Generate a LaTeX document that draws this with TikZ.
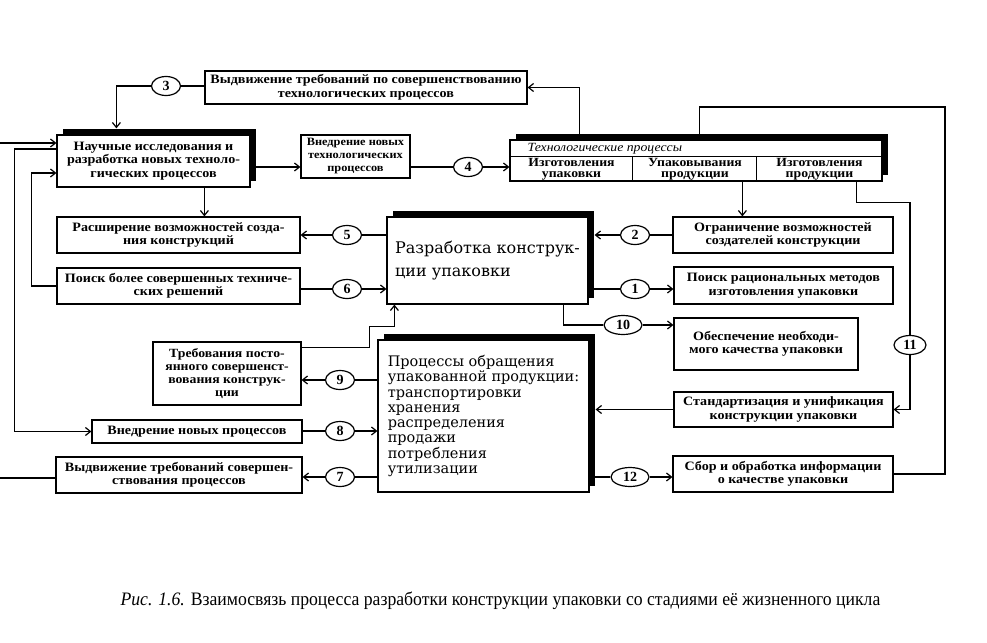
\documentclass[tikz,border=0pt]{standalone}
\usepackage{fontspec}
\setmainfont{Liberation Serif}
\newfontfamily\boxfont[FakeStretch=1.1]{Liberation Serif}
\newfontfamily\bigfont{DejaVu Serif}
\newfontfamily\capfont[FakeStretch=0.93]{Liberation Serif}
\usetikzlibrary{arrows.meta,shapes.geometric,shadows}

\begin{document}
\begin{tikzpicture}[x=1pt,y=-1pt,line width=1.2pt,
  box/.style={draw,fill=white,align=center,inner sep=1pt,font=\boxfont\bfseries\fontsize{12.8}{13.5}\selectfont},
  heavy/.style={box,drop shadow={shadow xshift=6pt,shadow yshift=6pt,fill=black,opacity=1}},
  cell/.style={align=center,inner sep=0pt,font=\boxfont\bfseries\fontsize{12.5}{11}\selectfont},
  num/.style={draw,ellipse,fill=white,inner sep=0pt,minimum height=19pt,font=\bfseries\fontsize{14}{14}\selectfont},
  arr/.style={-{Straight Barb[length=5pt,width=8pt]}}]
\useasboundingbox (0,0) rectangle (987,642);

% top row
\node[box,minimum width=322,minimum height=33] (req3) at (366,87.5) {Выдвижение требований по совершенствованию\\технологических процессов};
\node[heavy,minimum width=193,minimum height=52] (nauch) at (153.5,161) {Научные исследования и\\разработка новых техноло-\\гических процессов};
\node[box,minimum width=109,minimum height=43,font=\boxfont\bfseries\fontsize{11.2}{13}\selectfont] (vned) at (355.5,156.5) {Внедрение новых\\технологических\\процессов};
\node[heavy,minimum width=372,minimum height=41] (tech) at (696,160.5) {};
\node[anchor=west,inner sep=0pt,font=\boxfont\itshape\fontsize{12.5}{12}\selectfont] (techhead) at (527,148.5) {Технологические процессы};
\node[cell] (col1) at (571.5,169) {Изготовления\\упаковки};
\node[cell] (col2) at (695,169) {Упаковывания\\продукции};
\node[cell] (col3) at (819.5,169) {Изготовления\\продукции};
\draw[line width=0.8pt] ([yshift=-17]tech.north west) -- ([yshift=-17]tech.north east);
\draw[line width=0.8pt] ([xshift=123,yshift=-17]tech.north west) -- ([xshift=123]tech.south west);
\draw[line width=0.8pt] ([xshift=247,yshift=-17]tech.north west) -- ([xshift=247]tech.south west);

% middle
\node[box,minimum width=243,minimum height=36] (rassh) at (178.5,235) {Расширение возможностей созда-\\ния конструкций};
\node[box,minimum width=243,minimum height=36] (poisk) at (178.5,286) {Поиск более совершенных техниче-\\ских решений};
\node[heavy,align=left,minimum width=201,minimum height=87,font=\bigfont\fontsize{16}{23}\selectfont] (razr) at (487.5,260.5) {Разработка конструк-\\ции упаковки};
\node[box,minimum width=220,minimum height=36] (ogran) at (783,235) {Ограничение возможностей\\создателей конструкции};
\node[box,minimum width=219,minimum height=37] (poiskrac) at (783.5,285.5) {Поиск рациональных методов\\изготовления упаковки};
\node[box,minimum width=184,minimum height=52] (obesp) at (766,344) {Обеспечение необходи-\\мого качества упаковки};

% bottom
\node[box,minimum width=148,minimum height=63,font=\boxfont\bfseries\fontsize{12.5}{13}\selectfont] (treb) at (227,373.5) {Требования посто-\\янного совершенст-\\вования конструк-\\ции};
\node[box,minimum width=210,minimum height=23] (vnproc) at (197,431.5) {Внедрение новых процессов};
\node[box,minimum width=246,minimum height=36] (vydv) at (179,475) {Выдвижение требований совершен-\\ствования процессов};
\node[heavy,align=left,minimum width=211,minimum height=152,font=\bigfont\fontsize{14.5}{15.3}\selectfont] (proc) at (483.5,416) {Процессы обращения\\упакованной продукции:\\транспортировки\\хранения\\распределения\\продажи\\потребления\\утилизации};
\node[box,minimum width=219,minimum height=35] (stand) at (783.5,409.5) {Стандартизация и унификация\\конструкции упаковки};
\node[box,minimum width=220,minimum height=36] (sbor) at (783,474) {Сбор и обработка информации\\о качестве упаковки};

\foreach \n/\cx/\cy/\w in {1/635/289/29,2/635/235/29,3/166/86/29,4/468/167/29,5/347/235/29,6/347/289/29,
  7/340/477/29,8/340/431/29,9/340/380/29,10/623/325/38,11/910/345/32,12/630/477/38}
  \node[num,minimum width=\w] (c\n) at (\cx,\cy) {\n};

\coordinate (upfeed) at ([xshift=70]tech.north west);
\coordinate (loopin) at ([xshift=190]tech.north west);
\coordinate (packout) at ([xshift=233]tech.south west);
\coordinate (prodout) at ([xshift=347]tech.south west);
\coordinate (looptop) at (945,107);
\coordinate (edgein) at (0,143);
\coordinate (edgeout) at (0,478);

% connectors
\draw[arr] (upfeed) |- (req3.east);
\draw (req3.west |- c3) -- (c3);
\draw[arr,shorten >=6pt] (c3) -| ([xshift=60]nauch.north west);
\draw[arr] (nauch.east |- c4) -- (vned.west |- c4);
\draw (vned.east |- c4) -- (c4);
\draw[arr] (c4) -- (tech.west |- c4);
\draw[arr] (edgein) -- (nauch.west |- edgein);
\draw[arr] ([yshift=12]nauch.west) -- ++(-42,0) |- (vnproc.west);
\draw[arr] (poisk.west) -- ++(-25,0) |- ([yshift=-12]nauch.west);
\draw[arr] ([xshift=148]nauch.south west) -- ([xshift=148]rassh.north west);
\draw (razr.west |- c5) -- (c5);
\draw[arr] (c5) -- (rassh.east |- c5);
\draw (poisk.east |- c6) -- (c6);
\draw[arr] (c6) -- (razr.west |- c6);
\draw[arr] ([yshift=-6]treb.north east) -- ++(68,0) -- ++(0,-21) -| ([xshift=8]razr.south west);
\draw ([xshift=-25]razr.south east) |- (c10);
\draw[arr] (c10) -- (obesp.west |- c10);
\draw (ogran.west |- c2) -- (c2);
\draw[arr,shorten >=6pt] (c2) -- (razr.east |- c2);
\draw (razr.east |- c1) -- (c1);
\draw[arr] (c1) -- (poiskrac.west |- c1);
\draw[arr] (packout) -- (packout |- ogran.north);
\draw (prodout) -- ++(0,21) -| (c11);
\draw[arr] (c11) |- (stand.east);
\draw (sbor.east) -| (looptop) -| (loopin);
\draw (proc.west |- c9) -- (c9);
\draw[arr] (c9) -- (treb.east |- c9);
\draw (vnproc.east |- c8) -- (c8);
\draw[arr] (c8) -- (proc.west |- c8);
\draw (proc.west |- c7) -- (c7);
\draw[arr] (c7) -- (vydv.east |- c7);
\draw (vydv.west |- edgeout) -- (edgeout);
\draw[arr,shorten >=6pt] (stand.west) -- (proc.east |- stand.west);
\draw (proc.east |- c12) -- (c12);
\draw[arr] (c12) -- (sbor.west |- c12);

\node[anchor=west,inner sep=0pt,font=\capfont\fontsize{19}{19}\selectfont] (caption) at (120,601) {\textit{Рис. 1.6.} Взаимосвязь процесса разработки конструкции упаковки со стадиями её жизненного цикла};
\end{tikzpicture}
\end{document}
